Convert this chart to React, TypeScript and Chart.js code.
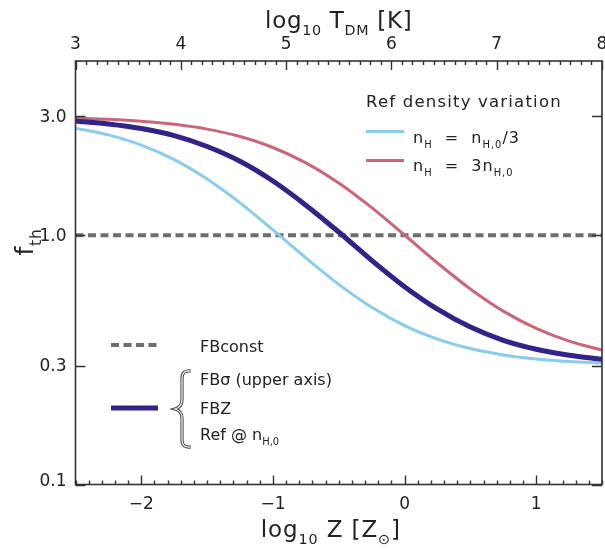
import React, { useEffect, useRef } from "react";
import { Chart, registerables } from "chart.js";

Chart.register(...registerables);

// ---- data ----
const logZ = [-2.5, -2.25, -2.0, -1.75, -1.5, -1.25, -1.0, -0.75, -0.5, -0.25, 0.0, 0.25, 0.5, 0.75, 1.0, 1.25, 1.5];
const fbzRef = [2.87, 2.795, 2.68, 2.51, 2.27, 1.98, 1.65, 1.32, 1.03, 0.793, 0.622, 0.505, 0.428, 0.379, 0.349, 0.33, 0.318];
const refLowDensity = [2.69, 2.526, 2.298, 2.01, 1.681, 1.349, 1.051, 0.811, 0.635, 0.514, 0.434, 0.383, 0.351, 0.331, 0.319, 0.3115, 0.307];
const refHighDensity = [2.949, 2.917, 2.866, 2.786, 2.665, 2.489, 2.249, 1.951, 1.619, 1.29, 1.002, 0.774, 0.609, 0.496, 0.423, 0.376, 0.346];
const fbConstX = [-2.5, 1.5];
const fbConstY = [1.0, 1.0];

const xRange = [-2.5, 1.5];
const topRange = [3, 8];
const yRange = [0.1, 5];
const xTicks = [-2, -1, 0, 1];
const topTicks = [3, 4, 5, 6, 7, 8];
const yTicks = [0.1, 0.3, 1.0, 3.0];

const COL_LIGHT = "#88CCEE";
const COL_PINK = "#CC6677";
const COL_DARK = "#332288";
const COL_GRAY = "#6e6e6e";
const TXT = "#222222";
const FONT = "'DejaVu Sans', sans-serif";

type Seg = [string, number]; // 0 normal, 1 subscript

function setSpacing(ctx: CanvasRenderingContext2D, px: number) {
  (ctx as any).letterSpacing = `${px}px`;
}

function richWidth(ctx: CanvasRenderingContext2D, segs: Seg[], size: number) {
  let w = 0;
  for (const [t, k] of segs) {
    ctx.font = `${k ? size * 0.62 : size}px ${FONT}`;
    w += ctx.measureText(t).width;
  }
  return w;
}

function drawRich(ctx: CanvasRenderingContext2D, segs: Seg[], x: number, y: number, size: number, align = "left", spacing = 0) {
  setSpacing(ctx, spacing);
  const w = richWidth(ctx, segs, size);
  let cx = align === "center" ? x - w / 2 : align === "right" ? x - w : x;
  ctx.textAlign = "left";
  ctx.textBaseline = "alphabetic";
  for (const [t, k] of segs) {
    ctx.font = `${k ? size * 0.62 : size}px ${FONT}`;
    ctx.fillText(t, cx, k ? y + size * 0.3 : y);
    cx += ctx.measureText(t).width;
  }
  setSpacing(ctx, 0);
}

const fmtNum = (v: number) => (v < 0 ? "\u2212" + Math.abs(v) : String(v));

const decorPlugin = {
  id: "decor",
  afterDatasetsDraw(chart: any) {
    const ctx: CanvasRenderingContext2D = chart.ctx;
    const { left, right, top, bottom } = chart.chartArea;
    const sx = chart.scales.x;
    const sx2 = chart.scales.x2;
    const sy = chart.scales.y;
    ctx.save();

    // frame
    ctx.strokeStyle = "#333";
    ctx.lineWidth = 1.6;
    ctx.strokeRect(left, top, right - left, bottom - top);

    // inward ticks
    ctx.lineWidth = 1.4;
    ctx.strokeStyle = "#333";
    ctx.beginPath();
    for (let i = Math.round(xRange[0] * 10); i <= Math.round(xRange[1] * 10); i++) {
      const px = Math.round(sx.getPixelForValue(i / 10)) + 0.5;
      const len = i % 10 === 0 ? 9 : 4;
      ctx.moveTo(px, bottom);
      ctx.lineTo(px, bottom - len);
    }
    for (let i = Math.round(topRange[0] * 10); i <= Math.round(topRange[1] * 10); i++) {
      const px = Math.round(sx2.getPixelForValue(i / 10)) + 0.5;
      const len = i % 10 === 0 ? 9 : 4;
      ctx.moveTo(px, top);
      ctx.lineTo(px, top + len);
    }
    for (const v of yTicks) {
      const py = Math.round(sy.getPixelForValue(v)) + 0.5;
      ctx.moveTo(left, py);
      ctx.lineTo(left + 10, py);
      ctx.moveTo(right, py);
      ctx.lineTo(right - 10, py);
    }
    ctx.stroke();

    // tick labels
    ctx.fillStyle = TXT;
    ctx.font = `17px ${FONT}`;
    ctx.textAlign = "center";
    ctx.textBaseline = "middle";
    for (const v of xTicks) ctx.fillText(fmtNum(v), sx.getPixelForValue(v), 505);
    for (const v of topTicks) ctx.fillText(String(v), sx2.getPixelForValue(v), 45);
    ctx.textAlign = "right";
    for (const v of yTicks) {
      const py = sy.getPixelForValue(v);
      if (v === yTicks[0]) {
        ctx.textBaseline = "alphabetic";
        ctx.fillText(v.toFixed(1), left - 9, py + 1);
        ctx.textBaseline = "middle";
      } else ctx.fillText(v.toFixed(1), left - 9, py + 1);
    }

    // axis titles
    const cxp = (left + right) / 2;
    drawRich(ctx, [["log", 0], ["10", 1], [" T", 0], ["DM", 1], [" [K]", 0]], cxp, 28, 23, "center", 0.7);
    drawRich(ctx, [["log", 0], ["10", 1], [" Z [Z", 0], ["\u2299", 1], ["]", 0]], cxp - 8, 537, 23, "center", 0.9);
    ctx.save();
    ctx.translate(33, 242);
    ctx.rotate(-Math.PI / 2);
    drawRich(ctx, [["f", 0], ["th", 1]], 0, 0, 25, "center", 0.8);
    ctx.restore();

    // legend: density variation
    const L = 16;
    drawRich(ctx, [["Ref density variation", 0]], 366, 107, 16.5, "left", 1.2);
    ctx.lineWidth = 3;
    ctx.strokeStyle = COL_LIGHT;
    ctx.beginPath(); ctx.moveTo(366, 131.5); ctx.lineTo(404, 131.5); ctx.stroke();
    ctx.strokeStyle = COL_PINK;
    ctx.beginPath(); ctx.moveTo(366, 160.5); ctx.lineTo(404, 160.5); ctx.stroke();
    drawRich(ctx, [["n", 0], ["H", 1], ["  =  n", 0], ["H,0", 1], ["/3", 0]], 413, 143, L, "left", 1.0);
    drawRich(ctx, [["n", 0], ["H", 1], ["  =  3n", 0], ["H,0", 1]], 413, 171, L, "left", 1.0);

    // legend: models
    ctx.strokeStyle = COL_GRAY;
    ctx.lineWidth = 4;
    ctx.setLineDash([8, 4.5]);
    ctx.beginPath(); ctx.moveTo(111, 345); ctx.lineTo(158, 345); ctx.stroke();
    ctx.setLineDash([]);
    ctx.strokeStyle = COL_DARK;
    ctx.lineWidth = 5;
    ctx.beginPath(); ctx.moveTo(111, 408); ctx.lineTo(158, 408); ctx.stroke();
    drawRich(ctx, [["FBconst", 0]], 200, 352, L);
    drawRich(ctx, [["FB\u03c3 (upper axis)", 0]], 200, 385, L);
    drawRich(ctx, [["FBZ", 0]], 200, 414, L);
    drawRich(ctx, [["Ref @ n", 0], ["H,0", 1]], 200, 440, L);

    // brace
    const bracePath = () => {
      ctx.beginPath();
      ctx.moveTo(191, 371);
      ctx.quadraticCurveTo(182, 370, 182, 378);
      ctx.lineTo(182, 400);
      ctx.quadraticCurveTo(182, 407, 175, 409);
      ctx.quadraticCurveTo(182, 411, 182, 418);
      ctx.lineTo(182, 440);
      ctx.quadraticCurveTo(182, 448, 191, 447);
      ctx.stroke();
    };
    ctx.strokeStyle = "#444";
    ctx.lineWidth = 3.2;
    bracePath();
    ctx.strokeStyle = "#ffffff";
    ctx.lineWidth = 1.2;
    bracePath();

    ctx.restore();
  },
};

export default function App() {
  const ref = useRef<HTMLCanvasElement | null>(null);
  useEffect(() => {
    if (!ref.current) return;
    const pts = (ys: number[]) => logZ.map((x, i) => ({ x, y: ys[i] }));
    const chart = new Chart(ref.current, {
      type: "line",
      data: {
        datasets: [
          { label: "FBZ", data: pts(fbzRef), borderColor: COL_DARK, borderWidth: 5, pointRadius: 0, cubicInterpolationMode: "monotone", order: 1 },
          { label: "n_H = 3n_H,0", data: pts(refHighDensity), borderColor: COL_PINK, borderWidth: 3, pointRadius: 0, cubicInterpolationMode: "monotone", order: 2 },
          { label: "n_H = n_H,0/3", data: pts(refLowDensity), borderColor: COL_LIGHT, borderWidth: 3, pointRadius: 0, cubicInterpolationMode: "monotone", order: 3 },
          { label: "FBconst", data: fbConstX.map((x, i) => ({ x, y: fbConstY[i] })), borderColor: COL_GRAY, borderWidth: 4, borderDash: [8, 4.5], pointRadius: 0, order: 4 },
        ],
      },
      options: {
        animation: false,
        responsive: false,
        devicePixelRatio: 1,
        layout: { padding: { left: 0, right: 3, top: 0, bottom: 0 } },
        plugins: { legend: { display: false }, tooltip: { enabled: false } },
        scales: {
          x: {
            type: "linear", position: "bottom", min: xRange[0], max: xRange[1],
            grid: { display: false, drawTicks: false }, border: { display: false },
            ticks: { display: false },
            afterFit: (s: any) => { s.height = 70.5; },
          },
          x2: {
            type: "linear", position: "top", min: topRange[0], max: topRange[1],
            grid: { display: false, drawTicks: false }, border: { display: false },
            ticks: { display: false },
            afterFit: (s: any) => { s.height = 61; },
          },
          y: {
            type: "logarithmic", position: "left", min: yRange[0], max: yRange[1],
            grid: { display: false, drawTicks: false }, border: { display: false },
            ticks: { display: false },
            afterFit: (s: any) => { s.width = 75.5; },
          },
        },
      } as any,
      plugins: [decorPlugin],
    });
    return () => chart.destroy();
  }, []);
  return (
    <div style={{ position: "fixed", left: 0, top: 0, width: 605, height: 555, background: "#fff" }}>
      <canvas ref={ref} width={605} height={555} />
    </div>
  );
}
